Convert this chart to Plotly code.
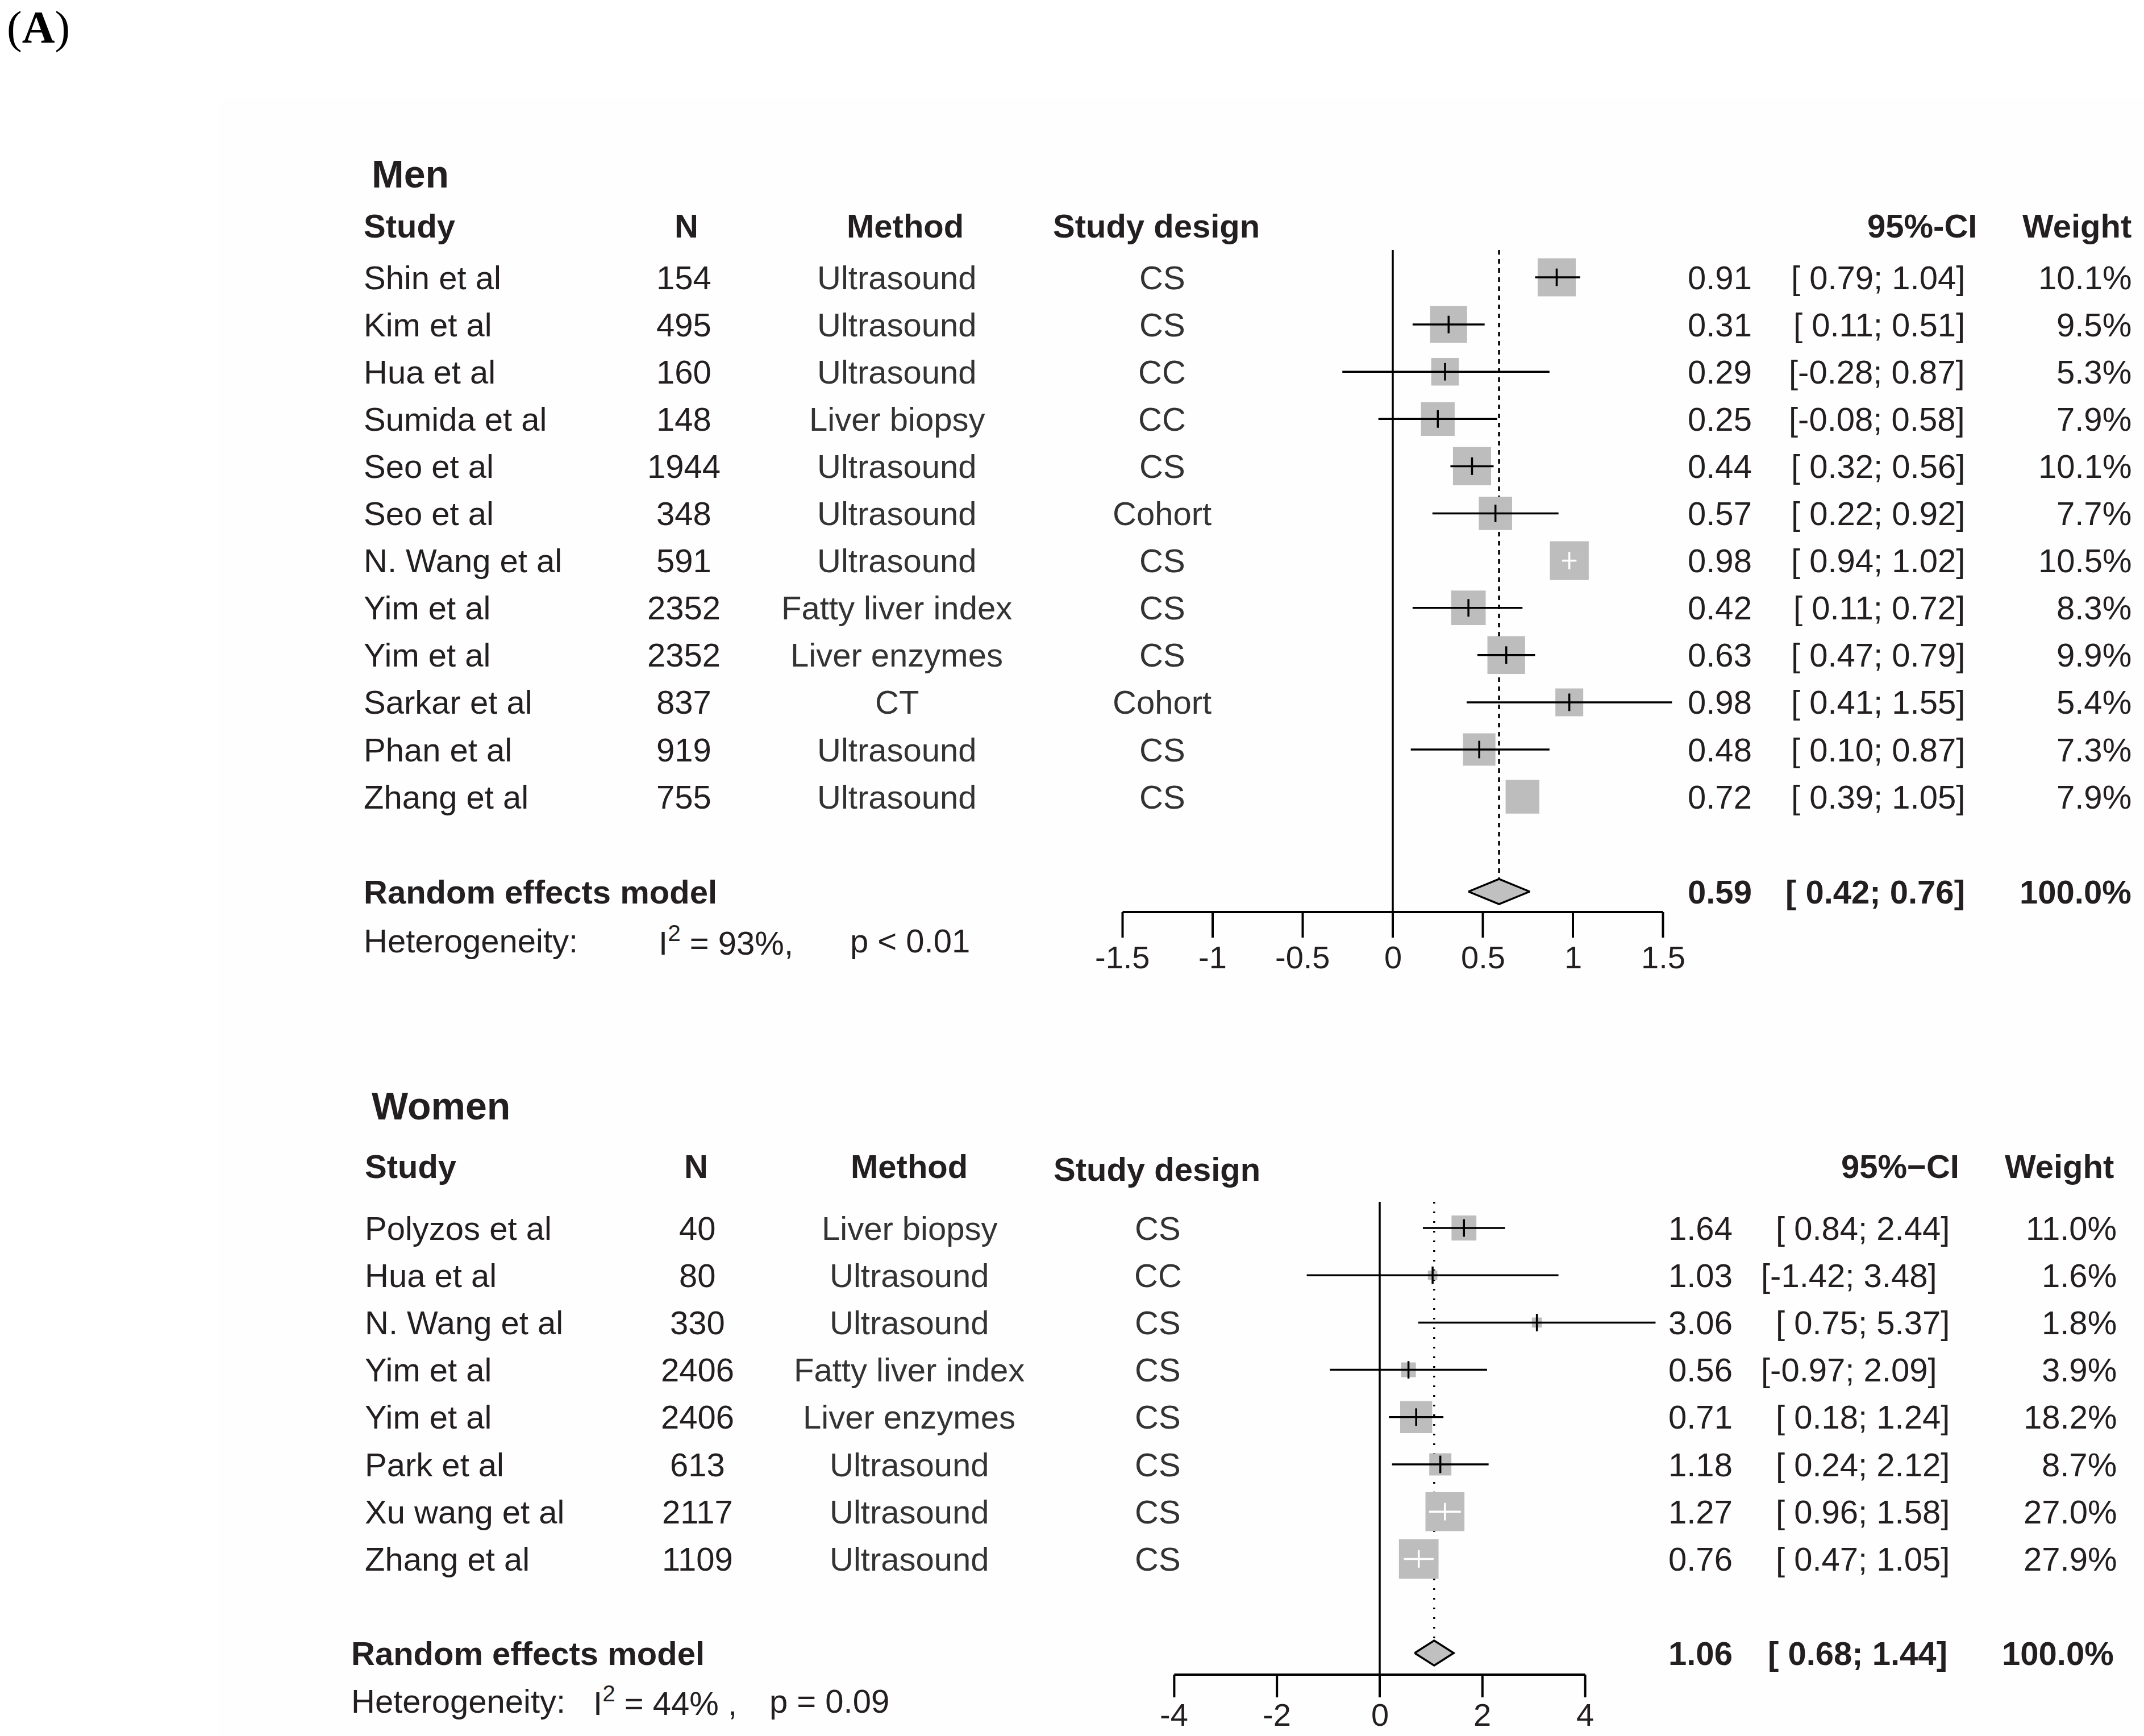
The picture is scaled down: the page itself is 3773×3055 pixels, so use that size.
import math
import plotly.graph_objects as go

W, H = 3773, 3055
TXT = "#231f20"
FONT = "Liberation Sans, Arial, Helvetica, sans-serif"

# ---------------- data: Men ----------------
men_study = ["Shin et al", "Kim et al", "Hua et al", "Sumida et al", "Seo et al", "Seo et al",
             "N. Wang et al", "Yim et al", "Yim et al", "Sarkar et al", "Phan et al", "Zhang et al"]
men_n = [154, 495, 160, 148, 1944, 348, 591, 2352, 2352, 837, 919, 755]
men_method = ["Ultrasound", "Ultrasound", "Ultrasound", "Liver biopsy", "Ultrasound", "Ultrasound",
              "Ultrasound", "Fatty liver index", "Liver enzymes", "CT", "Ultrasound", "Ultrasound"]
men_design = ["CS", "CS", "CC", "CC", "CS", "Cohort", "CS", "CS", "CS", "Cohort", "CS", "CS"]
men_est = [0.91, 0.31, 0.29, 0.25, 0.44, 0.57, 0.98, 0.42, 0.63, 0.98, 0.48, 0.72]
men_lo = [0.79, 0.11, -0.28, -0.08, 0.32, 0.22, 0.94, 0.11, 0.47, 0.41, 0.10, 0.39]
men_hi = [1.04, 0.51, 0.87, 0.58, 0.56, 0.92, 1.02, 0.72, 0.79, 1.55, 0.87, 1.05]
men_weight = [10.1, 9.5, 5.3, 7.9, 10.1, 7.7, 10.5, 8.3, 9.9, 5.4, 7.3, 7.9]
men_pooled = [0.59, 0.42, 0.76]
men_het_i2 = "93%,"
men_het_p = "p &lt; 0.01"
men_ticks = [-1.5, -1, -0.5, 0, 0.5, 1, 1.5]
men_tick_labels = ["-1.5", "-1", "-0.5", "0", "0.5", "1", "1.5"]

# ---------------- data: Women ----------------
women_study = ["Polyzos et al", "Hua et al", "N. Wang et al", "Yim et al", "Yim et al",
               "Park et al", "Xu wang et al", "Zhang et al"]
women_n = [40, 80, 330, 2406, 2406, 613, 2117, 1109]
women_method = ["Liver biopsy", "Ultrasound", "Ultrasound", "Fatty liver index", "Liver enzymes",
                "Ultrasound", "Ultrasound", "Ultrasound"]
women_design = ["CS", "CC", "CS", "CS", "CS", "CS", "CS", "CS"]
women_est = [1.64, 1.03, 3.06, 0.56, 0.71, 1.18, 1.27, 0.76]
women_lo = [0.84, -1.42, 0.75, -0.97, 0.18, 0.24, 0.96, 0.47]
women_hi = [2.44, 3.48, 5.37, 2.09, 1.24, 2.12, 1.58, 1.05]
women_weight = [11.0, 1.6, 1.8, 3.9, 18.2, 8.7, 27.0, 27.9]
women_pooled = [1.06, 0.68, 1.44]
women_het_i2 = "44% ,"
women_het_p = "p = 0.09"
women_ticks = [-4, -2, 0, 2, 4]
women_tick_labels = ["-4", "-2", "0", "2", "4"]

fig = go.Figure()
annotations = []
shapes = []


def ann(text, px, py, anchor="left", bold=False, size=58, color=TXT, family=FONT):
    if bold:
        text = "<b>" + text + "</b>"
    annotations.append(dict(text=text, x=px / W, y=py, xref="paper", yref="y",
                            xanchor=anchor, yanchor="middle", showarrow=False,
                            font=dict(size=size, color=color, family=family)))


def panel(cfg, study, n, method, design, est, lo, hi, weight, pooled, het_i2, het_p,
          ticks, tick_labels, hide_ci=()):
    xa = cfg["xaxis"]
    unit = cfg["unit"]
    ys = [cfg["y0"] + i * cfg["step"] for i in range(len(study))]
    # ----- table text -----
    ann(cfg["title"], cfg["title_x"], cfg["title_y"], bold=True, size=68)
    hy = cfg["head_y"]
    ann("Study", cfg["c_study"], hy, bold=True)
    ann("N", cfg["h_n"], hy, "center", bold=True)
    ann("Method", cfg["h_method"], hy, "center", bold=True)
    ann("Study design", cfg["h_design"], hy + cfg.get("design_dy", 0), "center", bold=True)
    ann(cfg["ci_head"], cfg["h_ci"], hy, "right", bold=True)
    ann("Weight", cfg["h_w"], hy, "right", bold=True)
    for i, y in enumerate(ys):
        ann(study[i], cfg["c_study"], y)
        ann(str(n[i]), cfg["c_n"], y, "center")
        ann(method[i], cfg["c_method"], y, "center", color="#333333")
        ann(design[i], cfg["c_design"], y, "center", color="#333333")
        ann(f"{est[i]:.2f}", cfg["c_est"], y, "right")
        ci_txt = f"[{lo[i]:5.2f}; {hi[i]:.2f}]".replace(" ", "\u00a0")
        shift = cfg["neg_shift"] if lo[i] < 0 else 0
        ann(ci_txt, cfg["c_ci"] + shift, y, "right")
        ann(f"{weight[i]:.1f}%", cfg["c_w"], y, "right")
    ry = cfg["re_y"]
    ann("Random effects model", cfg["c_re"], ry, bold=True)
    ann(f"{pooled[0]:.2f}", cfg["c_est"], ry, "right", bold=True)
    ann(f"[{pooled[1]:5.2f}; {pooled[2]:.2f}]".replace(" ", "\u00a0"), cfg["c_ci_re"], ry, "right", bold=True)
    ann("100.0%", cfg["c_w_re"], ry, "right", bold=True)
    hty = cfg["het_y"]
    ann("Heterogeneity:", cfg["c_re"], hty)
    ann("I<sup>2</sup> = " + het_i2, cfg["het_i_x"], hty)
    ann(het_p, cfg["het_p_x"], hty)

    # ----- forest plot -----
    top = cfg["line_top"]
    axy = cfg["axis_y"]
    dh = cfg["diamond_h"] / 2.0
    # reference lines
    fig.add_trace(go.Scatter(x=[0, 0], y=[top, axy], mode="lines", xaxis=xa, yaxis="y",
                             line=dict(color="black", width=3.5), hoverinfo="skip", showlegend=False))
    fig.add_trace(go.Scatter(x=[pooled[0], pooled[0]], y=[top, ry - dh], mode="lines", xaxis=xa, yaxis="y",
                             line=dict(color="black", width=3.5, dash=cfg["dash"]),
                             hoverinfo="skip", showlegend=False))
    # squares
    sizes = [cfg["k"] * math.sqrt(w) for w in weight]
    fig.add_trace(go.Scatter(x=est, y=ys, mode="markers", xaxis=xa, yaxis="y",
                             marker=dict(symbol="square", size=sizes, color="#bdbdbd", opacity=1,
                                         line=dict(width=0)),
                             hoverinfo="skip", showlegend=False))
    # CIs
    for colr in ("black", "white"):
        lx, ly, tx, ty = [], [], [], []
        for i in range(len(est)):
            if i in hide_ci:
                continue
            half = sizes[i] / 2.0
            inside = (est[i] - lo[i]) * unit <= half and (hi[i] - est[i]) * unit <= half
            c = "white" if inside else "black"
            if c != colr:
                continue
            lx += [lo[i], hi[i], None]
            ly += [ys[i], ys[i], None]
            tx.append(est[i])
            ty.append(ys[i])
        if lx:
            fig.add_trace(go.Scatter(x=lx, y=ly, mode="lines", xaxis=xa, yaxis="y",
                                     line=dict(color=colr, width=3.5), hoverinfo="skip", showlegend=False))
            fig.add_trace(go.Scatter(x=tx, y=ty, mode="markers", xaxis=xa, yaxis="y",
                                     marker=dict(symbol="line-ns", size=22, line=dict(color=colr, width=3.5)),
                                     hoverinfo="skip", showlegend=False))
    # pooled diamond
    fig.add_trace(go.Scatter(x=[pooled[1], pooled[0], pooled[2], pooled[0], pooled[1]],
                             y=[ry, ry - dh, ry, ry + dh, ry], mode="lines", fill="toself",
                             fillcolor="#c0c0c0", xaxis=xa, yaxis="y",
                             line=dict(color="black", width=3.5), hoverinfo="skip", showlegend=False))
    # axis
    ax_x, ax_y = [ticks[0], ticks[-1], None], [axy, axy, None]
    for t in ticks:
        ax_x += [t, t, None]
        ax_y += [axy, axy + cfg["tick_len"], None]
    fig.add_trace(go.Scatter(x=ax_x, y=ax_y, mode="lines", xaxis=xa, yaxis="y",
                             line=dict(color="black", width=4), hoverinfo="skip", showlegend=False))
    for t, lab in zip(ticks, tick_labels):
        annotations.append(dict(text=lab, x=t, y=cfg["tick_lab_y"], xref=xa, yref="y",
                                xanchor="center", yanchor="middle", showarrow=False,
                                font=dict(size=56, color=TXT, family=FONT)))


men_cfg = dict(xaxis="x", zero=2451, unit=317.0, y0=488, step=83.1,
               title="Men", title_x=652, title_y=306, head_y=397,
               c_study=638, h_n=1208, h_method=1593, h_design=2035, ci_head="95%-CI", h_ci=3481, h_w=3753,
               c_n=1203, c_method=1578, c_design=2045, c_est=3085, c_ci=3460, neg_shift=0, c_w=3753,
               re_y=1569, c_re=638, c_ci_re=3460, c_w_re=3753, het_y=1655, het_i_x=1157, het_p_x=1494,
               line_top=440, axis_y=1605, diamond_h=44, dash="8px,8px", k=21.1,
               tick_len=45, tick_lab_y=1684)
women_cfg = dict(xaxis="x2", zero=2428, unit=90.4, y0=2161, step=83.2,
                 title="Women", title_x=652, title_y=1946, head_y=2052, design_dy=5,
                 c_study=640, h_n=1225, h_method=1600, h_design=2036, ci_head="95%\u2212CI", h_ci=3450, h_w=3722,
                 c_n=1227, c_method=1600, c_design=2038, c_est=3051, c_ci=3433, neg_shift=-22, c_w=3727,
                 re_y=2909, c_re=616, c_ci_re=3429, c_w_re=3722, het_y=2993, het_i_x=1042, het_p_x=1352,
                 line_top=2115, axis_y=2947, diamond_h=44, dash="3px,14px", k=13.2,
                 tick_len=40, tick_lab_y=3017)

panel(men_cfg, men_study, men_n, men_method, men_design, men_est, men_lo, men_hi, men_weight,
      men_pooled, men_het_i2, men_het_p, men_ticks, men_tick_labels, hide_ci=(11,))
panel(women_cfg, women_study, women_n, women_method, women_design, women_est, women_lo, women_hi,
      women_weight, women_pooled, women_het_i2, women_het_p, women_ticks, women_tick_labels)

# panel label
annotations.append(dict(text="(<b>A</b>)", x=10 / W, y=48, xref="paper", yref="y", xanchor="left",
                        yanchor="middle", showarrow=False,
                        font=dict(size=80, color="black", family="Liberation Serif, Times New Roman, serif")))

# very faint background panel
shapes.append(dict(type="rect", xref="paper", yref="y", x0=383 / W, x1=1, y0=172, y1=H,
                   fillcolor="#fefefe", line=dict(width=0), layer="below"))


def xrange(cfg):
    return [(0 - cfg["zero"]) / cfg["unit"], (W - cfg["zero"]) / cfg["unit"]]


fig.update_layout(
    width=W, height=H, margin=dict(l=0, r=0, t=0, b=0),
    paper_bgcolor="white", plot_bgcolor="rgba(0,0,0,0)",
    showlegend=False,
    annotations=annotations, shapes=shapes,
    xaxis=dict(domain=[0, 1], range=xrange(men_cfg), visible=False, fixedrange=True),
    xaxis2=dict(domain=[0, 1], range=xrange(women_cfg), visible=False, fixedrange=True,
                overlaying="x", anchor="y"),
    yaxis=dict(domain=[0, 1], range=[H, 0], visible=False, fixedrange=True),
)

fig.write_html("out.html", config={"displayModeBar": False},
               post_script="document.body.style.margin='0';document.body.style.overflow='hidden';")
